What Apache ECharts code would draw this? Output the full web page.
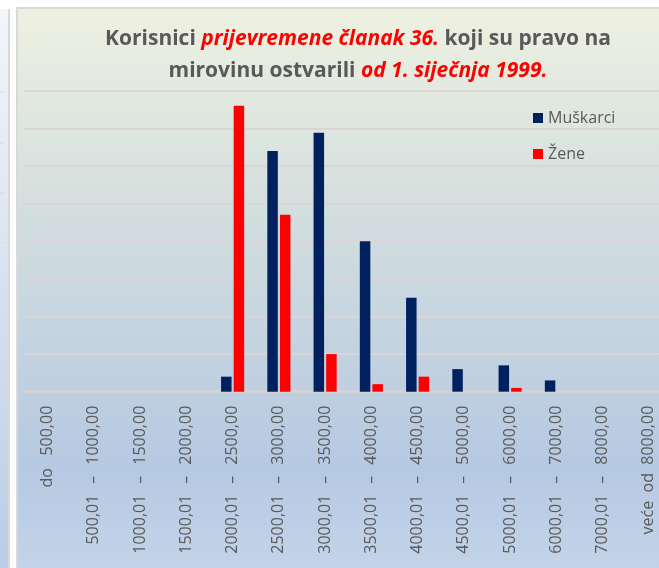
<!DOCTYPE html>
<html>
<head>
<meta charset="utf-8">
<script src="https://cdn.jsdelivr.net/npm/echarts@6/dist/echarts.min.js"></script>
<style>
  html, body { margin: 0; padding: 0; background: #ffffff; overflow: hidden; }
  /* the plot runs past the right edge of the window, so the canvas is wider */
  #chart { width: 676px; height: 568px; }
</style>
</head>
<body>
<div id="chart"></div>
<script>
// Income brackets (HRK)
const categories = [
  'do   500,00',
  '500,01  \u2009–  \u20091000,00',
  '1000,01  \u2009–  \u20091500,00',
  '1500,01  \u2009–  \u20092000,00',
  '2000,01  \u2009–  \u20092500,00',
  '2500,01  \u2009–  \u20093000,00',
  '3000,01  \u2009–  \u20093500,00',
  '3500,01  \u2009–  \u20094000,00',
  '4000,01  \u2009–  \u20094500,00',
  '4500,01  \u2009–  \u20095000,00',
  '5000,01  \u2009–  \u20096000,00',
  '6000,01  \u2009–  \u20097000,00',
  '7000,01  \u2009–  \u20098000,00',
  'veće  od  8000,00'
];
const seriesNames = ['Muškarci', 'Žene'];
const muskarci = [0, 0, 0, 0, 200, 3200, 3440, 2000, 1250, 300, 350, 150, 0, 0];
const zene     = [0, 0, 0, 0, 3800, 2350, 500, 100, 200, 0, 50, 0, 0, 0];

const chart = echarts.init(document.getElementById('chart'), null, { renderer: 'canvas' });

const grey = '#595959';
const font = '"Open Sans", "Noto Sans", sans-serif';

// small tick stubs of the neighbouring panel on the far left
const leftTicks = [92, 143, 193, 243, 293, 343, 393].map(y => ({
  type: 'line', z: -5, silent: true,
  shape: { x1: 0, y1: y, x2: 5, y2: y },
  style: { stroke: '#d6dbe3', lineWidth: 1 }
}));

chart.setOption({
  backgroundColor: '#ffffff',
  animation: false,
  graphic: [
    // neighbouring panel strip
    { type: 'rect', z: -10, silent: true,
      shape: { x: 0, y: 9, width: 9, height: 559 },
      style: { fill: new echarts.graphic.LinearGradient(0, 0, 0, 1, [
        { offset: 0, color: '#f3f6fb' }, { offset: 1, color: '#b9cde6' }]) } },
    { type: 'rect', z: -9, silent: true,
      shape: { x: 8, y: 9, width: 2, height: 559 },
      style: { fill: '#d9d9d9' } },
    // chart area frame and gradient fill
    { type: 'rect', z: -10, silent: true,
      shape: { x: 16, y: 7, width: 680, height: 570 },
      style: { fill: '#d9d9d9' } },
    { type: 'rect', z: -9, silent: true,
      shape: { x: 18, y: 9, width: 680, height: 570 },
      style: { fill: new echarts.graphic.LinearGradient(0, 0, 0, 1, [
        { offset: 0, color: '#eef1e1' },
        { offset: 0.35, color: '#d3dede' },
        { offset: 0.8, color: '#b6c9e2' },
        { offset: 1, color: '#c4d5ea' }]) } }
  ].concat(leftTicks),
  title: {
    left: 353,
    top: 18,
    textAlign: 'center',
    text: '{b|Korisnici }{r|prijevremene članak 36.}{b| koji su pravo na}\n{b|mirovinu ostvarili }{r|od 1. siječnja 1999.}',
    textStyle: {
      rich: {
        b: { fontFamily: font, fontWeight: 'bold', fontSize: 21, color: grey, lineHeight: 32 },
        r: { fontFamily: font, fontWeight: 'bold', fontStyle: 'italic', fontSize: 21, color: '#ff0000', lineHeight: 32 }
      }
    }
  },
  legend: {
    data: seriesNames,
    orient: 'vertical',
    left: 528,
    top: 105,
    itemWidth: 10,
    itemHeight: 10,
    itemGap: 20,
    icon: 'rect',
    textStyle: { fontFamily: font, fontSize: 16, color: grey }
  },
  grid: {
    left: 24.5,
    right: 4,
    top: 90.7,
    bottom: 176.3,
    containLabel: false
  },
  xAxis: {
    type: 'category',
    data: categories,
    axisTick: { show: false },
    axisLine: { show: true, lineStyle: { color: '#d3d3d3', width: 3 } },
    axisLabel: {
      rotate: 90,
      margin: 14,
      interval: 0,
      fontFamily: font,
      fontSize: 16,
      color: grey
    }
  },
  yAxis: {
    type: 'value',
    min: 0,
    max: 4000,
    interval: 500,
    axisLabel: { show: false },
    axisLine: { show: false },
    axisTick: { show: false },
    splitLine: { lineStyle: { color: '#dbd5d5', width: 2 } }
  },
  series: [
    {
      name: seriesNames[0],
      type: 'bar',
      data: muskarci,
      barWidth: 10.5,
      barGap: '20%',
      itemStyle: { color: '#002060' }
    },
    {
      name: seriesNames[1],
      type: 'bar',
      data: zene,
      barWidth: 10.5,
      itemStyle: { color: '#ff0000' }
    }
  ]
});
</script>
</body>
</html>
